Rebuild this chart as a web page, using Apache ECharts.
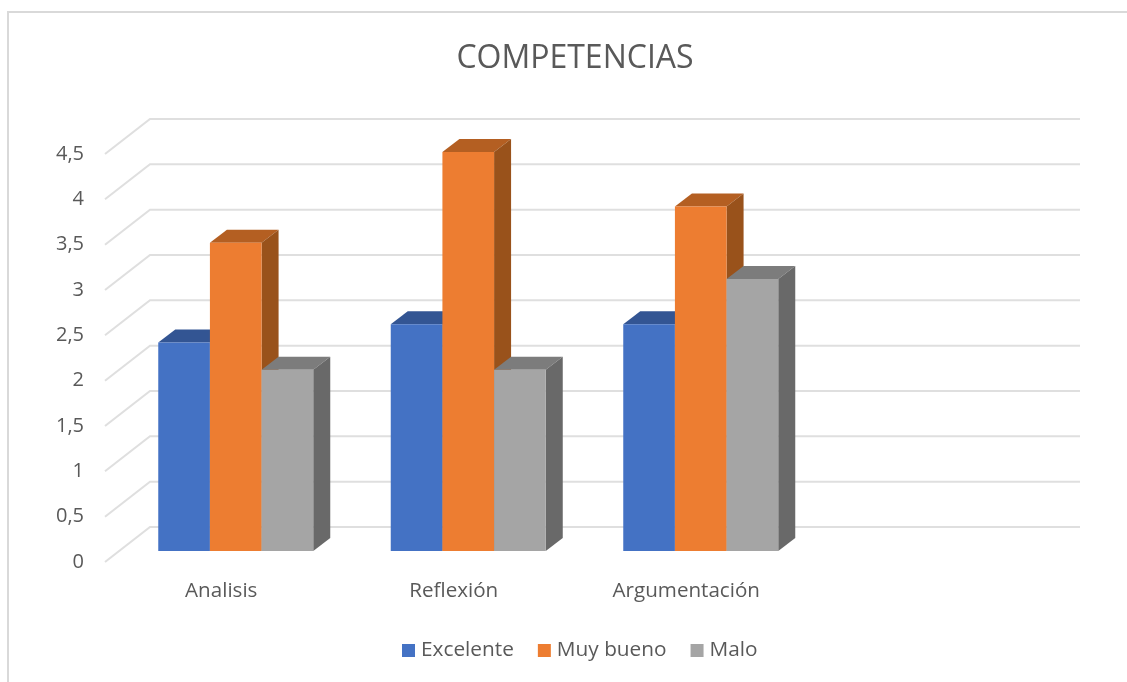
<!DOCTYPE html>
<html>
<head>
<meta charset="utf-8">
<style>html,body{margin:0;padding:0;background:#fff}#chart{width:1127px;height:682px}</style>
<script src="https://cdn.jsdelivr.net/npm/echarts@6/dist/echarts.min.js"></script>
</head>
<body>
<div id="chart"></div>
<script>
// Competency scores per category; the fourth category slot is left empty.
const categories = ['Analisis', 'Reflexión', 'Argumentación', ''];
const excelente = [2.3, 2.5, 2.5];
const muyBueno = [3.4, 4.4, 3.8];
const malo = [2, 2, 3];
const yTicks = [0, 0.5, 1, 1.5, 2, 2.5, 3, 3.5, 4, 4.5];

const FONT = '"Open Sans", sans-serif';
const TEXT = '#595959';
const GRID_LINE = '#dfdfdf';

// Pseudo-3D depth, in pixels: floor depth, bar inset from the front edge, bar depth.
const WALL = [45, -35];
const INSET = [14.5, -11];
const DEPTH = [17, -13];

function wallRender(params, api) {
  const cs = params.coordSys;
  const y = api.coord([0, api.value(0)])[1];
  return {
    type: 'polyline',
    silent: true,
    shape: { points: [[cs.x, y], [cs.x + WALL[0], y + WALL[1]], [cs.x + cs.width + WALL[0], y + WALL[1]]] },
    style: { stroke: GRID_LINE, lineWidth: 2, fill: null }
  };
}

function barRender(slot, frontColor, topColor, sideColor) {
  return function (params, api) {
    const band = api.size([1, 0])[0];
    const w = band / 4.5;
    const top = api.coord([api.value(0), api.value(1)]);
    const base = api.coord([api.value(0), 0]);
    const x0 = top[0] + INSET[0] + (slot - 1.5) * w;
    const x1 = x0 + w;
    const yT = top[1] + INSET[1];
    const yB = base[1] + INSET[1];
    const dx = DEPTH[0], dy = DEPTH[1];
    const face = (pts, fill) => ({ type: 'polygon', shape: { points: pts }, style: { fill: fill, stroke: null } });
    return {
      type: 'group',
      children: [
        face([[x0, yT], [x0 + dx, yT + dy], [x1 + dx, yT + dy], [x1, yT]], topColor),
        face([[x1, yT], [x1 + dx, yT + dy], [x1 + dx, yB + dy], [x1, yB]], sideColor),
        face([[x0, yT], [x1, yT], [x1, yB], [x0, yB]], frontColor)
      ]
    };
  };
}

function barSeries(name, values, slot, front, top, side) {
  return {
    name: name,
    type: 'custom',
    clip: false,
    itemStyle: { color: front },
    encode: { x: 0, y: 1 },
    data: values.map((v, i) => [i, v]),
    renderItem: barRender(slot, front, top, side)
  };
}

const chart = echarts.init(document.getElementById('chart'), null, { renderer: 'canvas' });
chart.setOption({
  animation: false,
  backgroundColor: '#fff',
  textStyle: { fontFamily: FONT },
  title: {
    text: 'COMPETENCIAS',
    left: 570, top: 38, textAlign: 'center',
    textStyle: { fontFamily: FONT, fontSize: 32, fontWeight: 'normal', color: TEXT }
  },
  legend: {
    data: ['Excelente', 'Muy bueno', 'Malo'],
    left: 397, top: 635,
    itemWidth: 13, itemHeight: 13, itemGap: 24,
    icon: 'rect',
    textStyle: { fontFamily: FONT, fontSize: 20.8, color: TEXT, padding: [0, 0, 0, 1] }
  },
  grid: { left: 105, right: 92, top: 154, bottom: 120, containLabel: false },
  xAxis: {
    type: 'category',
    data: categories,
    axisLine: { show: false }, axisTick: { show: false },
    axisLabel: { fontFamily: FONT, fontSize: 20.6, color: TEXT, margin: 19, interval: 0 }
  },
  yAxis: {
    type: 'value', min: 0, max: 4.5, interval: 0.5,
    axisLine: { show: false }, axisTick: { show: false }, splitLine: { show: false },
    axisLabel: {
      fontFamily: FONT, fontSize: 20, color: TEXT, margin: 21,
      padding: [0, 0, 6, 0],
      formatter: v => String(v).replace('.', ',')
    }
  },
  // Chart frame: only the top and left edges fall inside the canvas.
  graphic: [{
    type: 'polyline', silent: true,
    shape: { points: [[8, 682], [8, 12], [1127, 12]] },
    style: { stroke: '#d9d9d9', lineWidth: 2, fill: null }
  }],
  series: [
    { type: 'custom', clip: false, silent: true, encode: { y: 0 }, data: yTicks.map(v => [v]), renderItem: wallRender },
    barSeries('Excelente', excelente, 0, '#4472c4', '#335593', '#2b4a80'),
    barSeries('Muy bueno', muyBueno, 1, '#ed7d31', '#b45f22', '#99521b'),
    barSeries('Malo', malo, 2, '#a5a5a5', '#7c7c7c', '#696969')
  ]
});
</script>
</body>
</html>
